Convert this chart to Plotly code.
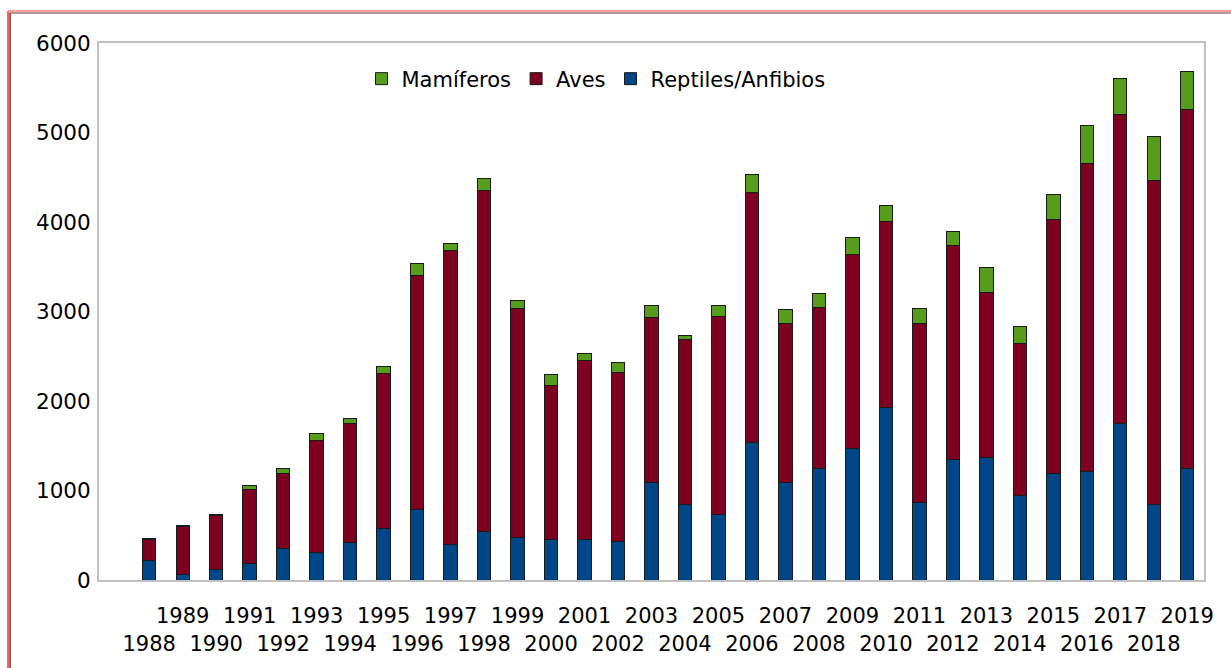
import plotly.graph_objects as go

years = list(range(1988, 2020))
reptiles = [223, 57, 114, 185, 347, 309, 423, 570, 784, 399, 542, 475, 456, 456, 433, 1089,
            846, 727, 1531, 1089, 1241, 1469, 1930, 870, 1350, 1364, 941, 1193, 1208, 1754, 846, 1250]
aves = [233, 537, 604, 828, 842, 1246, 1322, 1740, 2620, 3281, 3813, 2563, 1721, 2002, 1882, 1849,
        1845, 2220, 2795, 1782, 1802, 2163, 2073, 1992, 2382, 1845, 1697, 2838, 3441, 3442, 3613, 4008]
mamiferos = [10, 17, 19, 47, 57, 85, 57, 77, 133, 80, 133, 85, 114, 71, 119, 124,
             38, 119, 209, 153, 161, 190, 176, 176, 162, 280, 195, 276, 428, 409, 495, 428]
tick_labels = [str(y) if y % 2 == 1 else "<br>" + str(y) for y in years]

W, H = 1231, 668
L, R, T, B = 99, 1204, 43, 580

def px(x):
    return (x - L) / (R - L)

def py(y):
    return (B - y) / (B - T)

xs = list(range(len(years)))
line = dict(color="#1a1a1a", width=1)

fig = go.Figure()
fig.add_trace(go.Bar(x=xs, y=reptiles, name="Reptiles/Anfibios",
                     marker=dict(color="#004586", line=line), width=0.4))
fig.add_trace(go.Bar(x=xs, y=aves, name="Aves",
                     marker=dict(color="#7e0021", line=line), width=0.4))
fig.add_trace(go.Bar(x=xs, y=mamiferos, name="Mamíferos",
                     marker=dict(color="#579d1c", line=line), width=0.4))

fig.update_layout(
    width=W, height=H,
    barmode="stack",
    paper_bgcolor="white", plot_bgcolor="white",
    margin=dict(l=L, r=W - R, t=T, b=H - B, pad=0),
    font=dict(family="DejaVu Sans", size=21, color="#000000"),
    showlegend=True,
    legend=dict(orientation="h", x=px(596), xanchor="center", y=py(79), yanchor="middle",
                traceorder="reversed", font=dict(size=21), bgcolor="rgba(0,0,0,0)",
                itemwidth=30),
    xaxis=dict(tickmode="array", tickvals=xs, ticktext=tick_labels, range=[-1.5, 31.5],
               tickangle=0, showgrid=False, zeroline=False, showline=True, mirror=True,
               linecolor="#c0c0c0", linewidth=2, ticks="outside", ticklen=16,
               tickcolor="rgba(0,0,0,0)", tickfont=dict(size=21)),
    yaxis=dict(range=[0, 6000], tickvals=[0, 1000, 2000, 3000, 4000, 5000, 6000],
               showgrid=False, zeroline=False, showline=True, mirror=True,
               linecolor="#c0c0c0", linewidth=2, ticks="outside", ticklen=2,
               tickcolor="rgba(0,0,0,0)", tickfont=dict(size=21.5)),
    shapes=[
        dict(type="line", xref="paper", yref="paper", x0=px(8), x1=px(8), y0=py(11), y1=py(668),
             line=dict(color="#ff3030", width=1.5)),
        dict(type="line", xref="paper", yref="paper", x0=px(10), x1=px(10), y0=py(13), y1=py(668),
             line=dict(color="#703030", width=1.5)),
        dict(type="line", xref="paper", yref="paper", x0=px(8), x1=px(1231), y0=py(11), y1=py(11),
             line=dict(color="#f08080", width=1.5)),
        dict(type="line", xref="paper", yref="paper", x0=px(10), x1=px(1231), y0=py(13), y1=py(13),
             line=dict(color="#703030", width=1)),
    ],
)

fig.write_html("out.html", config={"displayModeBar": False},
               post_script="document.body.style.margin='0';")
